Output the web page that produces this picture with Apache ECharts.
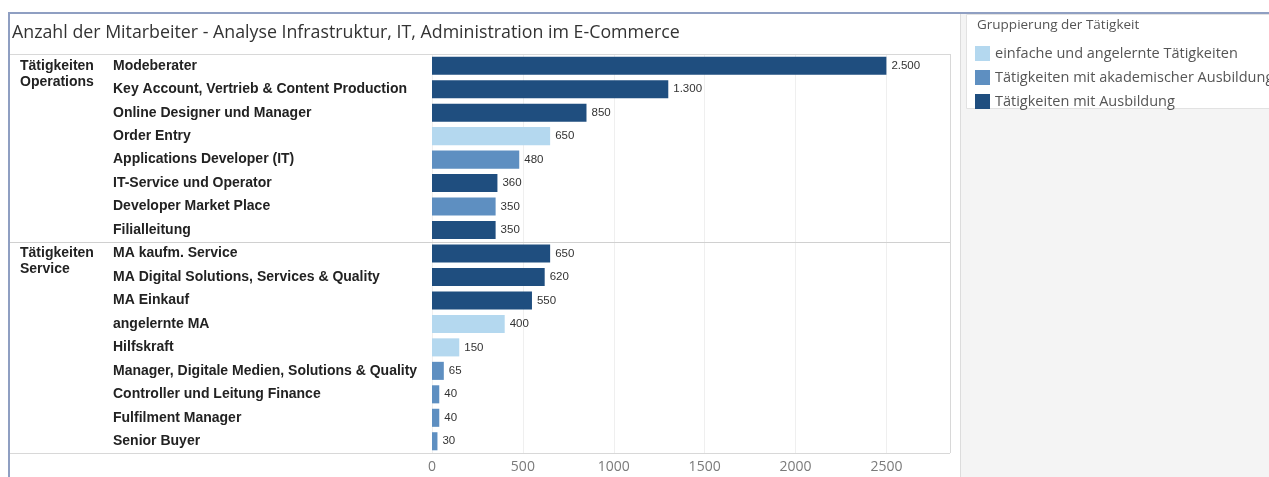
<!DOCTYPE html>
<html>
<head>
<meta charset="utf-8">
<script src="https://cdn.jsdelivr.net/npm/echarts@6/dist/echarts.min.js"></script>
<style>
  html, body { margin: 0; padding: 0; background: #ffffff; }
  #chart { width: 1269px; height: 477px; }
</style>
</head>
<body>
<div id="chart"></div>
<script>
// Job titles, top to bottom
const categories = [
  'Modeberater',
  'Key Account, Vertrieb & Content Production',
  'Online Designer und Manager',
  'Order Entry',
  'Applications Developer (IT)',
  'IT-Service und Operator',
  'Developer Market Place',
  'Filialleitung',
  'MA kaufm. Service',
  'MA Digital Solutions, Services & Quality',
  'MA Einkauf',
  'angelernte MA',
  'Hilfskraft',
  'Manager, Digitale Medien, Solutions & Quality',
  'Controller und Leitung Finance',
  'Fulfilment Manager',
  'Senior Buyer'
];

// Headcount per job title
const values = [2500, 1300, 850, 650, 480, 360, 350, 350, 650, 620, 550, 400, 150, 65, 40, 40, 30];

// Qualification group of each job title (index into groups)
const rowGroup = [2, 2, 2, 0, 1, 2, 1, 2, 2, 2, 2, 0, 0, 1, 1, 1, 1];

const groups = [
  'einfache und angelernte Tätigkeiten',
  'Tätigkeiten mit akademischer Ausbildung',
  'Tätigkeiten mit Ausbildung'
];
const groupColors = ['#b4d8ef', '#5e8fc1', '#1f4e7f'];

// Sections of the rows
const sectionLabels = [['Tätigkeiten', 'Operations'], ['Tätigkeiten', 'Service']];
const sectionSizes = [8, 9];

const xTicks = { min: 0, max: 2850, interval: 500 };

const GRID = { left: 432, top: 54, width: 518, height: 399 };
const PANE_RIGHT = GRID.left + GRID.width;
const PANE_BOTTOM = GRID.top + GRID.height;

const LABEL_FONT = '"Liberation Sans", Arial, sans-serif';
const UI_FONT = '"Open Sans", sans-serif';

function deNumber(v) {
  return String(v).replace(/\B(?=(\d{3})+(?!\d))/g, '.');
}

const series = groups.map((name, g) => ({
  name: name,
  type: 'bar',
  stack: 'rows',
  barWidth: '77%',
  itemStyle: { color: groupColors[g] },
  label: {
    show: true,
    position: 'right',
    distance: 5,
    fontSize: 11.5,
    fontFamily: LABEL_FONT,
    color: '#333',
    formatter: p => deNumber(p.value)
  },
  data: values.map((v, i) => rowGroup[i] === g ? v : '-')
}));

const chart = echarts.init(document.getElementById('chart'), null, { renderer: 'canvas' });

chart.setOption({
  animation: false,
  backgroundColor: '#ffffff',
  title: {
    text: 'Anzahl der Mitarbeiter - Analyse Infrastruktur, IT, Administration im E-Commerce',
    left: 12,
    top: 24,
    padding: 0,
    textStyle: { fontSize: 17.8, fontWeight: 'normal', color: '#333', fontFamily: UI_FONT }
  },
  legend: {
    data: groups,
    orient: 'vertical',
    left: 975,
    top: 46,
    padding: 0,
    icon: 'rect',
    itemWidth: 15,
    itemHeight: 15,
    itemGap: 9,
    selectedMode: false,
    textStyle: { fontSize: 14.5, color: '#555', fontFamily: UI_FONT }
  },
  grid: { left: GRID.left, top: GRID.top, width: GRID.width, height: GRID.height, containLabel: false },
  xAxis: {
    type: 'value',
    min: xTicks.min,
    max: xTicks.max,
    interval: xTicks.interval,
    axisLine: { show: false },
    axisTick: { show: false },
    splitLine: { show: true, lineStyle: { color: '#efefef', width: 1 } },
    axisLabel: {
      showMaxLabel: false,
      margin: 7,
      fontSize: 14,
      color: '#7a7a7a',
      fontFamily: UI_FONT,
      formatter: v => String(v)
    }
  },
  yAxis: {
    type: 'category',
    inverse: true,
    data: categories,
    axisLine: { show: false },
    axisTick: { show: false },
    axisLabel: {
      align: 'left',
      margin: GRID.left - 113,
      fontSize: 14,
      fontWeight: 'bold',
      color: '#222',
      fontFamily: LABEL_FONT
    }
  },
  series: series
});

// Frame, section dividers, section labels and legend panel
const yOf = i => chart.convertToPixel({ yAxisIndex: 0 }, categories[i]);
const graphics = [];

// right-hand panel background and legend box
graphics.push({ type: 'rect', shape: { x: 961, y: 14, width: 320, height: 470 }, style: { fill: '#f4f4f4' }, z: -10 });
graphics.push({ type: 'line', shape: { x1: 960.5, y1: 14, x2: 960.5, y2: 477 }, style: { stroke: '#dcdcdc', lineWidth: 1 }, z: -9 });
graphics.push({ type: 'rect', shape: { x: 966.5, y: 14.5, width: 320, height: 94 }, style: { fill: '#ffffff', stroke: '#e2e2e2', lineWidth: 1 }, z: -8 });
graphics.push({
  type: 'text', x: 977, y: 25,
  style: { text: 'Gruppierung der Tätigkeit', font: '13.5px ' + UI_FONT, fill: '#555', textVerticalAlign: 'middle' }
});

// pane lines
[GRID.top + 0.5, PANE_BOTTOM + 0.5].forEach(y => {
  graphics.push({ type: 'line', shape: { x1: 10, y1: y, x2: PANE_RIGHT, y2: y }, style: { stroke: '#d8d8d8', lineWidth: 1 } });
});
graphics.push({ type: 'line', shape: { x1: PANE_RIGHT + 0.5, y1: GRID.top, x2: PANE_RIGHT + 0.5, y2: PANE_BOTTOM }, style: { stroke: '#d8d8d8', lineWidth: 1 } });

let start = 0;
sectionSizes.forEach((size, s) => {
  const yc = yOf(start);
  sectionLabels[s].forEach((line, k) => {
    graphics.push({
      type: 'text', x: 20, y: yc + k * 16,
      style: { text: line, font: 'bold 14px ' + LABEL_FONT, fill: '#222', textVerticalAlign: 'middle' }
    });
  });
  if (s > 0) {
    const yDiv = Math.round((yOf(start - 1) + yc) / 2) + 0.5;
    graphics.push({ type: 'line', shape: { x1: 10, y1: yDiv, x2: PANE_RIGHT, y2: yDiv }, style: { stroke: '#d0d0d0', lineWidth: 1 } });
  }
  start += size;
});

// outer dashboard frame
graphics.push({ type: 'line', shape: { x1: 8, y1: 13, x2: 1269, y2: 13 }, style: { stroke: '#8f9fc2', lineWidth: 2 } });
graphics.push({ type: 'line', shape: { x1: 9, y1: 13, x2: 9, y2: 477 }, style: { stroke: '#8f9fc2', lineWidth: 2 } });

chart.setOption({ graphic: graphics });
</script>
</body>
</html>
